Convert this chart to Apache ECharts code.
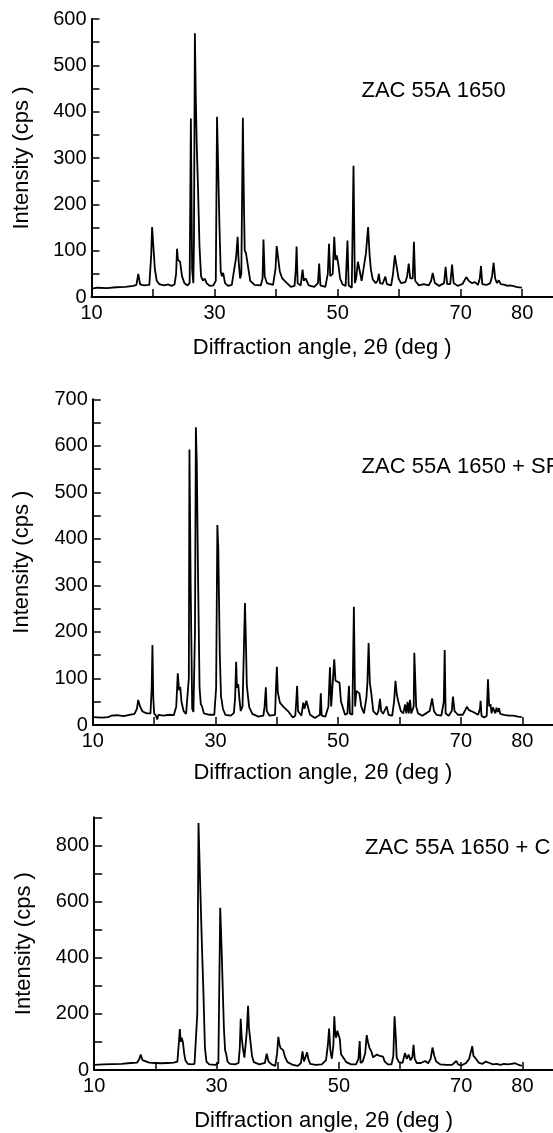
<!DOCTYPE html>
<html>
<head>
<meta charset="utf-8">
<script src="https://cdn.jsdelivr.net/npm/echarts@6/dist/echarts.min.js"></script>
<style>
html,body{margin:0;padding:0;background:#fff;}
#chart{width:553px;height:1133px;}
</style>
</head>
<body>
<div id="chart"></div>
<script>
// ---------- data ----------
const xTickLabels = [10, 30, 50, 70, 80];
const panelTitles = ['ZAC 55A 1650', 'ZAC 55A 1650 + SF', 'ZAC 55A 1650 + C'];
const xAxisName = 'Diffraction angle, 2\u03B8 (deg )';
const yAxisName = 'Intensity (cps )';

// Panel 1: ZAC 55A 1650
const angle1 = [10.0,11.0,12.5,14.0,15.5,16.8,17.3,17.6,17.9,18.5,19.4,19.7,19.85,20.05,20.3,20.6,21.0,21.8,22.5,23.0,23.5,23.75,23.9,24.05,24.2,24.4,24.7,25.1,25.6,25.95,26.15,26.35,26.55,26.65,26.8,26.95,27.1,27.3,27.55,27.8,28.1,28.4,28.7,29.2,29.8,30.2,30.4,30.55,30.8,31.0,31.2,31.4,31.7,32.2,32.8,33.2,33.5,33.75,33.9,34.15,34.35,34.6,34.75,34.9,35.1,35.3,35.5,35.8,36.5,37.5,37.8,37.95,38.15,38.5,39.5,39.9,40.1,40.35,40.6,41.0,41.6,42.4,43.0,43.2,43.33,43.5,44.0,44.3,44.5,44.8,45.0,45.3,46.2,46.8,47.0,47.2,48.0,48.4,48.6,48.8,49.2,49.45,49.65,49.85,50.1,50.4,50.8,51.3,51.6,51.8,52.3,52.58,52.8,53.0,53.3,53.6,53.9,54.2,54.6,54.95,55.2,55.4,55.7,56.2,56.5,56.7,56.9,57.3,57.75,58.0,58.7,59.0,59.3,59.6,59.9,60.3,61.0,61.3,61.55,61.8,62.2,62.4,62.6,63.2,64.0,64.8,65.2,65.45,65.8,66.5,67.3,67.55,67.8,68.3,68.6,68.85,69.5,70.3,70.9,71.3,71.8,72.3,72.8,73.1,73.3,73.5,74.2,74.8,75.1,75.35,75.6,75.9,76.2,76.5,77.2,77.6,78.0,78.5,79.0,79.5,79.95];
const intensity1 = [18,20,19,21,22,24,26,50,27,25,26,90,151,110,60,35,28,25,27,24,27,50,104,80,79,76,45,30,25,30,385,60,30,120,569,430,330,240,110,45,35,40,30,24,25,35,389,300,150,55,45,52,30,24,26,60,85,130,80,40,50,387,220,100,95,92,60,35,26,25,40,124,45,30,26,60,110,108,55,40,32,22,24,60,109,30,25,59,35,40,38,25,22,30,72,25,22,50,115,45,50,130,80,90,72,40,27,24,122,25,20,283,30,40,76,76,35,35,94,151,90,60,38,30,35,50,30,28,44,28,25,50,90,65,40,30,32,45,72,40,40,119,35,25,28,25,35,52,30,24,30,65,28,28,70,30,24,28,43,35,30,32,26,40,67,28,26,30,45,74,40,30,36,28,26,24,25,24,22,21,20];

// Panel 2: ZAC 55A 1650 + SF
const angle2 = [10.0,11.5,12.5,13.0,14.0,15.0,16.0,16.8,17.2,17.4,17.7,18.1,18.8,19.4,19.6,19.72,19.85,20.0,20.3,20.5,20.7,21.5,22.5,23.2,23.6,23.85,24.05,24.25,24.45,24.8,25.2,25.5,25.65,25.75,25.95,26.2,26.4,26.65,26.8,26.95,27.15,27.4,27.6,27.8,28.1,29.0,29.8,30.1,30.3,30.45,30.7,30.9,31.0,31.2,31.6,32.5,33.0,33.2,33.36,33.5,33.7,33.9,34.1,34.4,34.6,34.8,34.95,35.1,35.3,35.5,36.0,37.0,37.8,38.0,38.2,38.35,38.8,39.7,39.85,40.0,40.15,40.5,41.0,41.8,42.6,43.0,43.15,43.3,43.45,44.0,44.3,44.5,44.8,45.1,45.4,46.2,47.0,47.16,47.3,47.9,48.4,48.65,48.85,49.1,49.35,49.55,49.85,50.2,50.45,50.7,51.1,51.5,51.75,51.9,52.3,52.55,52.75,52.95,53.2,53.45,53.75,54.2,54.6,54.75,54.95,55.15,55.4,55.7,56.3,56.55,56.8,57.0,57.3,57.6,57.9,58.2,58.8,59.1,59.33,59.55,59.8,60.2,60.6,60.9,61.1,61.3,61.5,61.7,61.9,62.3,62.4,62.55,62.7,63.0,63.7,64.3,64.9,65.3,65.6,66.0,66.8,67.2,67.35,67.5,68.0,68.5,68.7,68.95,69.5,70.3,70.7,70.95,71.3,72.0,72.8,73.1,73.2,73.35,73.8,74.2,74.4,74.6,74.8,75.0,75.2,75.4,75.6,75.8,76.0,76.2,76.4,77.0,77.8,78.5,79.3,79.9];
const intensity2 = [17,16,17,20,21,19,22,24,35,54,40,29,25,25,80,172,60,25,20,12,22,20,22,21,40,111,75,82,50,30,24,25,100,592,300,35,28,200,640,560,320,80,45,40,25,22,22,80,430,380,150,60,54,35,22,20,26,60,136,80,88,55,30,40,150,262,180,86,60,38,24,18,20,40,81,30,20,22,80,125,70,48,40,30,16,20,50,84,30,20,48,35,52,50,22,15,22,68,20,18,40,124,40,40,141,95,93,91,50,40,22,25,84,25,22,254,40,73,73,68,40,25,60,90,176,90,67,30,22,30,56,30,24,28,40,22,20,50,95,65,50,30,25,44,25,50,25,54,25,40,155,152,40,25,20,25,30,57,30,22,20,50,161,25,20,30,61,30,22,22,32,39,32,28,22,35,52,20,16,20,98,40,45,25,38,40,25,37,28,36,24,22,20,20,18,17];

// Panel 3: ZAC 55A 1650 + C
const angle3 = [10.0,11.5,13.0,14.5,16.0,17.0,17.4,17.6,17.9,18.2,19.0,20.0,21.0,22.0,23.0,23.6,23.85,24.0,24.15,24.3,24.5,24.7,24.9,25.3,26.0,26.4,26.7,26.85,27.05,27.3,27.6,27.85,28.1,28.35,28.8,29.8,30.3,30.45,30.6,30.8,31.0,31.2,31.4,31.6,31.8,32.2,33.0,33.6,33.8,33.95,34.1,34.3,34.55,34.8,34.95,35.15,35.3,35.5,35.8,36.1,37.0,37.9,38.2,38.5,39.0,39.6,39.9,40.1,40.3,40.45,40.7,40.9,41.2,41.6,42.5,43.3,43.8,44.05,44.3,44.6,44.8,45.0,45.3,46.2,47.2,47.9,48.2,48.4,48.6,48.85,49.1,49.25,49.4,49.55,49.75,49.95,50.15,50.35,50.6,50.85,51.2,52.0,52.8,53.2,53.4,53.55,53.9,54.3,54.55,54.75,55.0,55.3,55.6,55.9,56.2,56.5,56.7,56.9,57.2,57.5,58.0,58.6,58.9,59.1,59.3,59.45,59.8,60.4,60.8,61.1,61.4,61.7,62.0,62.2,62.4,62.7,63.4,64.1,64.6,65.0,65.3,65.6,65.9,66.6,67.6,68.5,69.2,69.5,70.0,70.8,71.3,71.6,71.8,72.0,72.4,72.9,73.5,74.0,74.3,74.6,75.2,75.8,76.4,77.0,77.6,78.2,78.8,79.4,79.9];
const intensity3 = [18,20,21,22,25,26,40,55,35,28,26,25,24,25,26,30,100,146,100,115,100,60,35,22,20,22,25,200,880,680,450,280,80,30,20,18,25,300,578,450,300,150,70,55,30,22,20,25,80,182,120,79,44,100,140,229,150,109,50,28,20,25,58,30,20,15,60,118,90,79,75,70,46,28,18,15,25,66,30,30,63,40,22,18,20,35,90,148,70,40,90,191,130,115,140,137,110,56,59,40,28,20,20,40,103,25,30,60,124,100,79,66,45,38,55,62,50,55,48,30,20,20,50,191,120,44,28,25,60,40,55,35,45,90,40,25,25,32,24,40,80,50,30,20,18,18,32,20,16,25,40,45,85,50,40,25,22,30,35,25,20,22,18,22,20,22,24,18,15];

const yMax = [600, 700, 900];
const yTickStep = [50, 50, 100];
const yLabelStep = [100, 100, 200];

// ---------- layout ----------
const FONT = '"Liberation Sans", Arial, Helvetica, sans-serif';
const grids = [
  {left: 91.5, top: 19, width: 466.3, height: 278},
  {left: 92.8, top: 399.3, width: 462, height: 325.7},
  {left: 94.2, top: 817.3, width: 468, height: 255}
];
const xNameGap = [40, 37, 40];
const yNameGap = [59, 60, 59];
const titlePos = [[361.5, 90.7], [361.6, 466.7], [365, 848.3]];

const angles = [angle1, angle2, angle3];
const intens = [intensity1, intensity2, intensity3];

const xAxes = [], yAxes = [], series = [], graphics = [];
for (let i = 0; i < 3; i++) {
  xAxes.push({
    type: 'value', gridIndex: i, min: 10, max: 85, interval: 10,
    axisLine: {show: true, onZero: false, lineStyle: {color: '#000', width: 2}},
    axisTick: {show: true, inside: true, length: 8, lineStyle: {color: '#000', width: 1.5}},
    axisLabel: {
      show: true, margin: 6, fontSize: 20, color: '#000', fontFamily: FONT,
      showMaxLabel: false,
      formatter: v => xTickLabels.indexOf(Math.round(v)) >= 0 && Math.abs(v - Math.round(v)) < 1e-6 ? String(Math.round(v)) : ''
    },
    splitLine: {show: false},
    name: xAxisName, nameLocation: 'middle', nameGap: xNameGap[i],
    nameTextStyle: {fontSize: 22, color: '#000', fontFamily: FONT}
  });
  const step = yLabelStep[i];
  yAxes.push({
    type: 'value', gridIndex: i, min: 0, max: yMax[i], interval: yTickStep[i],
    axisLine: {show: true, onZero: false, lineStyle: {color: '#000', width: 2}},
    axisTick: {show: true, inside: true, length: 8, lineStyle: {color: '#000', width: 1.5}},
    axisLabel: {
      show: true, margin: 5, fontSize: 20, color: '#000', fontFamily: FONT,
      formatter: v => (Math.round(v) % step === 0) ? String(Math.round(v)) : ''
    },
    splitLine: {show: false},
    name: yAxisName, nameLocation: 'middle', nameGap: yNameGap[i], nameRotate: 90,
    nameTextStyle: {fontSize: 22, color: '#000', fontFamily: FONT}
  });
  series.push({
    type: 'line', xAxisIndex: i, yAxisIndex: i,
    data: angles[i].map((a, k) => [a, intens[i][k]]),
    showSymbol: false, symbol: 'none', smooth: false,
    lineStyle: {color: '#000', width: 1.8},
    silent: true, animation: false, clip: false
  });
  graphics.push({
    type: 'text', x: titlePos[i][0], y: titlePos[i][1],
    style: {text: panelTitles[i], fontSize: 22, fontFamily: FONT, fill: '#000', align: 'left', verticalAlign: 'middle'}
  });
}

const chart = echarts.init(document.getElementById('chart'), null, {renderer: 'canvas'});
chart.setOption({
  animation: false,
  backgroundColor: '#fff',
  grid: grids,
  xAxis: xAxes,
  yAxis: yAxes,
  series: series,
  graphic: graphics
});
</script>
</body>
</html>
